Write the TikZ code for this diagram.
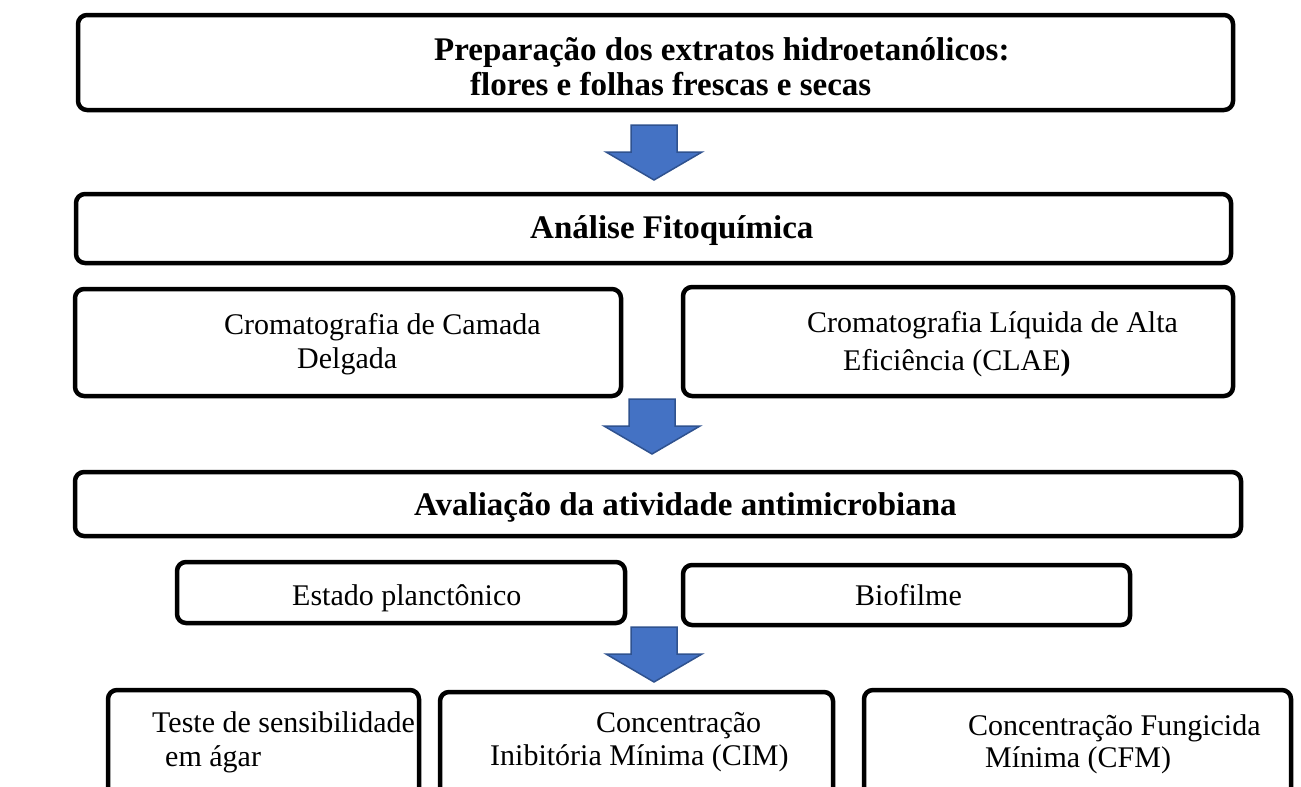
\documentclass[tikz,border=0pt]{standalone}
\usepackage{fontspec}
\setmainfont{Liberation Serif}
\definecolor{arrowfill}{HTML}{4472C4}
\definecolor{arrowline}{HTML}{2F528F}
\tikzset{
  stepbox/.style={draw=black, line width=4.5pt, rounded corners=9pt, fill=white},
  reg/.style={anchor=base west, inner sep=0pt, font=\fontsize{30}{35}\selectfont},
  bld/.style={anchor=base west, inner sep=0pt, font=\fontsize{33}{38}\selectfont\bfseries},
  downarrow/.pic={
    \draw[fill=arrowfill, draw=arrowline, line width=1.5pt, line join=miter]
      (-23,0) -- (23,0) -- (23,27) -- (48,27) -- (0,55) -- (-48,27) -- (-23,27) -- cycle;
  }
}
\begin{document}
\begin{tikzpicture}[x=1pt, y=-1pt]
\useasboundingbox (0,0) rectangle (1301,787);
\clip (0,0) rectangle (1301,787);
\fill[white] (0,0) rectangle (1301,787);
% boxes
\draw[stepbox] (78,15) rectangle (1233,110);
\draw[stepbox] (76,194) rectangle (1231,263);
\draw[stepbox] (75,289) rectangle (621,396);
\draw[stepbox] (683,287) rectangle (1233,396);
\draw[stepbox] (75,472) rectangle (1241,536);
\draw[stepbox] (177,562) rectangle (625,623);
\draw[stepbox] (683,565) rectangle (1130,625);
\draw[stepbox] (108,690) rectangle (419,810);
\draw[stepbox] (440,692) rectangle (833,810);
\draw[stepbox] (864,690) rectangle (1291,810);
% arrows
\pic at (654,125) {downarrow};
\pic at (652,399) {downarrow};
\pic at (654,627) {downarrow};
% texts
\node[bld] (t1a) at (434,60) {Preparação dos extratos hidroetanólicos:};
\node[bld] (t1b) at (470,95) {flores e folhas frescas e secas};
\node[bld] (t2) at (530,238) {Análise Fitoquímica};
\node[reg] (t3a) at (224,334) {Cromatografia de Camada};
\node[reg] (t3b) at (297,368) {Delgada};
\node[reg] (t4a) at (807,332) {Cromatografia Líquida de Alta};
\node[reg] (t4b) at (843,370) {Eficiência (CLAE\textbf{)}};
\node[bld] (t5) at (414,515) {Avaliação da atividade antimicrobiana};
\node[reg] (t6) at (292,605) {Estado planctônico};
\node[reg] (t7) at (855,605) {Biofilme};
\node[reg] (t8a) at (152,732) {Teste de sensibilidade};
\node[reg] (t8b) at (165,766) {em ágar};
\node[reg] (t9a) at (596,732) {Concentração};
\node[reg] (t9b) at (490,765) {Inibitória Mínima (CIM)};
\node[reg] (t10a) at (968,735) {Concentração Fungicida};
\node[reg] (t10b) at (985,767) {Mínima (CFM)};
\end{tikzpicture}
\end{document}
